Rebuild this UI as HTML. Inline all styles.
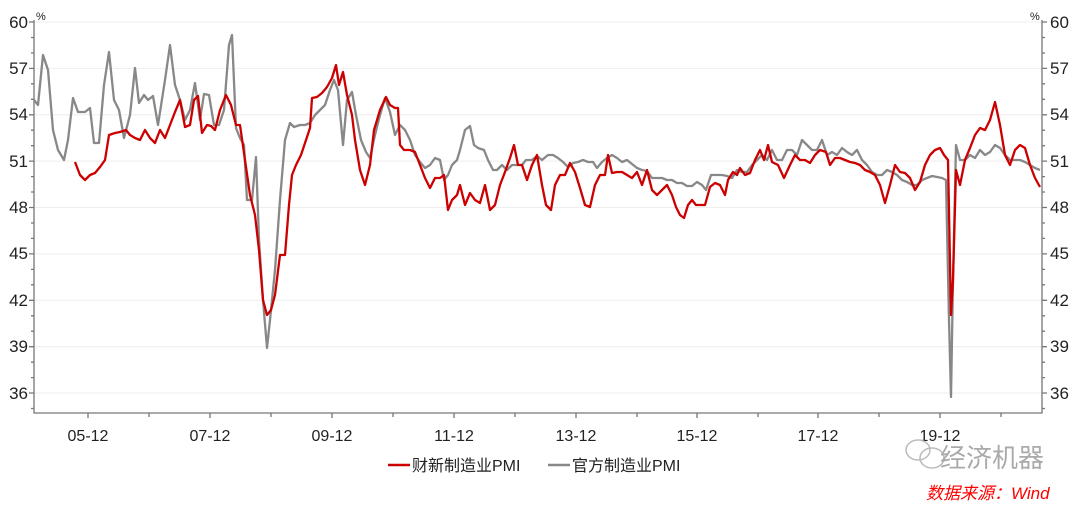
<!DOCTYPE html>
<html><head><meta charset="utf-8"><style>
body{margin:0;background:#fff;width:1080px;height:503px;overflow:hidden;font-family:"Liberation Sans","Noto Sans CJK SC",sans-serif;}
</style></head><body>
<svg width="1080" height="503" xmlns="http://www.w3.org/2000/svg" font-family="Liberation Sans, Noto Sans CJK SC, sans-serif">
<g stroke="#eeeeee" stroke-width="1">
<line x1="34" y1="22" x2="1042" y2="22"/><line x1="34" y1="68.4" x2="1042" y2="68.4"/><line x1="34" y1="114.8" x2="1042" y2="114.8"/><line x1="34" y1="161.1" x2="1042" y2="161.1"/><line x1="34" y1="207.5" x2="1042" y2="207.5"/><line x1="34" y1="253.9" x2="1042" y2="253.9"/><line x1="34" y1="300.3" x2="1042" y2="300.3"/><line x1="34" y1="346.7" x2="1042" y2="346.7"/><line x1="34" y1="393" x2="1042" y2="393"/>
</g>
<g stroke="#777" stroke-width="1.3" fill="none">
<path d="M34 20V413H1042V20"/>
<path d="M29 22h5M29 68.4h5M29 114.8h5M29 161.1h5M29 207.5h5M29 253.9h5M29 300.3h5M29 346.7h5M29 393h5"/>
<path d="M31 37.5h3M31 53h3M31 83.8h3M31 99.3h3M31 130.2h3M31 145.7h3M31 176.6h3M31 192h3M31 223h3M31 238.4h3M31 269.4h3M31 284.8h3M31 315.8h3M31 331.2h3M31 362.2h3M31 377.6h3M31 408.5h3"/>
<path d="M1042 22h5M1042 68.4h5M1042 114.8h5M1042 161.1h5M1042 207.5h5M1042 253.9h5M1042 300.3h5M1042 346.7h5M1042 393h5"/>
<path d="M1042 37.5h3M1042 53h3M1042 83.8h3M1042 99.3h3M1042 130.2h3M1042 145.7h3M1042 176.6h3M1042 192h3M1042 223h3M1042 238.4h3M1042 269.4h3M1042 284.8h3M1042 315.8h3M1042 331.2h3M1042 362.2h3M1042 377.6h3M1042 408.5h3"/>
<path d="M88 413v5M149 413v4M210 413v5M271 413v4M332 413v5M393 413v4M454 413v5M515 413v4M576 413v5M637 413v4M697 413v5M758 413v4M818 413v5M879 413v4M940 413v5M1001 413v4"/>
</g>
<g font-size="17" fill="#222" text-anchor="end">
<text x="28" y="28">60</text><text x="28" y="74">57</text><text x="28" y="120">54</text><text x="28" y="167">51</text><text x="28" y="213">48</text><text x="28" y="259">45</text><text x="28" y="306">42</text><text x="28" y="352">39</text><text x="28" y="399">36</text>
</g>
<g font-size="17" fill="#222">
<text x="1050" y="28">60</text><text x="1050" y="74">57</text><text x="1050" y="120">54</text><text x="1050" y="167">51</text><text x="1050" y="213">48</text><text x="1050" y="259">45</text><text x="1050" y="306">42</text><text x="1050" y="352">39</text><text x="1050" y="399">36</text>
</g>
<text x="36" y="20" font-size="11" fill="#222">%</text>
<text x="1030" y="20" font-size="11" fill="#222">%</text>
<g font-size="16" fill="#222" text-anchor="middle">
<text x="88" y="441">05-12</text><text x="210" y="441">07-12</text><text x="332" y="441">09-12</text><text x="454" y="441">11-12</text><text x="576" y="441">13-12</text><text x="697" y="441">15-12</text><text x="818" y="441">17-12</text><text x="940" y="441">19-12</text>
</g>
<polyline fill="none" stroke="#888" stroke-width="2.3" stroke-linejoin="round" points="34,100 38,105 43,55 48,70 53,130 58,150 64,160 68,140 73,98 78,112 85,112 90,108 94,143 99,143 104,85 109,52 114,100 119,110 124,138 130,115 135,68 139,103 144,95 148,100 153,96 158,125 165,80 170,45 175,85 180,100 185,120 190,110 195,83 200,120 204,94 209,95 214,125 219,125 224,110 229,45 232,35 236,128 240,138 244,145 247,200 252,200 256,157 259,240 263,300 267,348 270,320 275,270 280,200 285,140 290,123 294,127 300,125 305,125 310,123 315,115 320,110 325,105 330,90 334,80 338,90 343,145 347,100 352,92 356,115 361,140 366,152 370,158 375,135 380,115 385,98 390,112 395,135 400,125 405,130 410,140 415,155 420,162 425,168 430,165 435,158 440,160 444,180 448,175 452,165 457,160 460,150 465,130 470,126 474,145 478,148 484,150 488,160 493,170 497,170 502,165 507,170 512,165 518,165 522,165 526,160 532,160 537,156 542,160 548,155 553,155 558,158 563,162 568,167 573,163 578,162 583,160 588,162 593,162 597,168 602,162 607,158 612,155 617,158 622,162 627,160 632,164 637,168 642,170 647,171 652,178 657,178 662,178 667,180 672,180 677,183 682,183 687,186 692,186 697,182 702,185 706,190 711,175 716,175 722,175 727,176 732,178 737,170 742,172 747,172 752,165 757,160 762,155 767,160 772,150 777,160 782,160 787,150 792,150 797,155 802,140 807,145 812,150 817,150 822,140 827,155 832,152 837,155 842,148 847,152 852,155 857,150 862,160 867,165 872,172 877,175 882,175 887,170 892,172 897,175 902,180 907,182 912,185 917,185 922,180 927,178 932,176 937,177 942,178 946,180 949,320 951,397 953,280 956,145 960,160 965,160 970,155 975,158 980,150 985,155 990,152 995,145 1000,148 1005,155 1010,160 1015,160 1020,160 1025,162 1030,165 1035,168 1040,170"/>
<polyline fill="none" stroke="#cc0000" stroke-width="2.3" stroke-linejoin="round" points="75,162 80,175 85,180 90,175 95,173 100,167 105,160 109,135 115,133 120,132 126,130 130,135 135,138 140,140 145,130 150,138 155,143 160,130 165,138 170,125 175,112 180,100 185,127 190,125 194,100 198,96 202,133 207,125 211,126 215,130 220,110 226,95 231,105 236,125 240,125 245,160 250,195 255,215 259,250 263,300 267,315 271,310 275,295 280,255 285,255 289,205 292,175 296,165 301,155 305,143 310,128 312,98 317,97 322,93 327,87 332,78 336,65 339,85 343,72 347,95 352,115 355,140 360,170 365,185 370,165 374,130 380,110 386,97 390,105 395,108 398,108 400,145 404,150 410,150 415,152 420,165 425,178 430,188 435,178 440,178 444,175 448,210 452,200 457,195 460,185 465,205 470,193 475,200 480,203 485,185 490,210 495,205 500,185 505,172 510,158 514,145 518,165 522,165 527,180 532,165 537,155 542,185 546,205 551,210 555,185 560,175 565,175 570,163 575,172 580,188 585,205 590,207 595,185 600,175 605,175 608,155 612,173 617,172 622,172 627,175 632,178 637,172 642,185 647,170 652,190 657,195 662,190 667,185 672,195 676,207 680,215 684,218 688,205 692,200 696,205 700,205 705,205 710,187 715,183 720,185 725,195 728,180 733,172 737,175 740,168 745,175 750,173 755,160 760,150 764,160 768,145 772,162 778,165 784,178 790,165 795,155 800,160 805,160 810,163 815,155 820,150 826,152 830,165 835,158 840,158 845,160 850,162 855,163 860,165 865,170 870,172 875,175 880,185 885,203 890,185 895,165 900,172 905,173 910,178 915,190 920,182 925,165 930,155 935,150 940,148 944,155 948,160 951,315 953,280 956,170 960,185 965,160 970,148 975,135 980,128 985,130 990,120 995,102 1000,125 1005,155 1010,165 1015,150 1020,145 1025,148 1030,165 1035,178 1040,187"/>
<line x1="388" y1="465" x2="410" y2="465" stroke="#cc0000" stroke-width="2.5"/>
<text x="412" y="471" font-size="16" fill="#222">财新制造业PMI</text>
<line x1="548" y1="465" x2="570" y2="465" stroke="#888" stroke-width="2.5"/>
<text x="572" y="471" font-size="16" fill="#222">官方制造业PMI</text>
<g fill="none" stroke="#bbb" stroke-width="1.5"><ellipse cx="918" cy="450" rx="12" ry="10"/><ellipse cx="932" cy="458" rx="12" ry="10"/></g>
<text x="940" y="467" font-size="26" fill="#aaa">经济机器</text>
<text x="926" y="499" font-size="17" fill="#ff0000" font-style="italic">数据来源：Wind</text>
</svg>
</body></html>
